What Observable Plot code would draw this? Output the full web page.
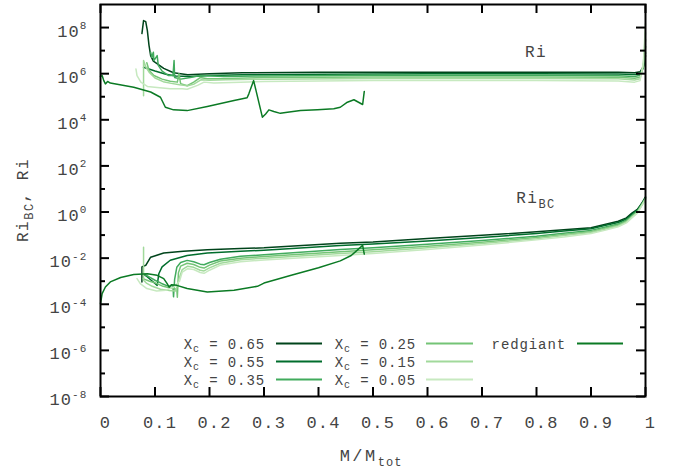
<!DOCTYPE html>
<html>
<head>
<meta charset="utf-8">
<script src="https://cdn.jsdelivr.net/npm/d3@7"></script>
<script src="https://cdn.jsdelivr.net/npm/@observablehq/plot@0.6"></script>
<style>
  body { margin: 0; background: white; }
  svg text { font-family: 'Liberation Mono', monospace; }
</style>
</head>
<body>
<script>
// ---------- data: [M/Mtot, value] ----------
const ri065 = [[0.076,5.5e7],[0.079,2.0e8],[0.083,1.8e8],[0.086,7.4e7],[0.089,1.7e7],[0.092,6.1e6],[0.097,3.5e6],[0.105,2.6e6],[0.116,1.7e6],[0.134,1.1e6],[0.16,9.0e5],[0.2,1.0e6],[0.26,1.1e6],[0.4,1.15e6],[0.6,1.15e6],[0.8,1.15e6],[0.95,1.15e6],[0.98,1.1e6],[0.99,1.2e6],[0.996,2.0e6],[1.0,6.0e6]];
const ri055 = [[0.079,1.9e6],[0.1,1.3e6],[0.12,9.5e5],[0.138,7.9e5],[0.165,7.6e5],[0.2,8.3e5],[0.26,9.0e5],[0.4,9.5e5],[0.6,1.0e6],[0.8,1.0e6],[0.95,9.8e5],[0.98,9.2e5],[0.99,1.0e6],[0.996,1.8e6],[1.0,8.0e6]];
const ri035 = [[0.092,8.5e6],[0.094,5.2e6],[0.097,8.5e6],[0.098,3.7e6],[0.104,6.1e6],[0.106,2.3e6],[0.113,1.3e6],[0.125,8.3e5],[0.133,8.3e5],[0.135,3.7e6],[0.136,6.8e5],[0.147,5.8e5],[0.165,6.8e5],[0.183,8.3e5],[0.226,7.6e5],[0.3,8.0e5],[0.5,8.5e5],[0.8,8.5e5],[0.95,8.2e5],[0.98,7.5e5],[0.99,8.5e5],[0.996,2.0e6],[1.0,1.5e7]];
const ri025 = [[0.085,3.0e6],[0.089,1.4e6],[0.098,8.3e5],[0.113,5.8e5],[0.128,4.7e5],[0.141,4.3e5],[0.144,1.0e6],[0.147,3.7e5],[0.159,3.0e5],[0.171,4.3e5],[0.183,6.8e5],[0.196,6.0e5],[0.22,6.0e5],[0.3,6.8e5],[0.5,7.2e5],[0.8,7.2e5],[0.95,7.0e5],[0.98,6.3e5],[0.99,7.0e5],[0.996,2.0e6],[1.0,3.0e7]];
const ri015 = [[0.079,1.1e5],[0.079,3.7e6],[0.083,2.0e6],[0.09,1.1e6],[0.1,6.5e5],[0.115,4.5e5],[0.13,3.8e5],[0.145,3.3e5],[0.16,3.0e5],[0.172,3.6e5],[0.185,5.5e5],[0.2,5.2e5],[0.23,5.5e5],[0.3,5.8e5],[0.5,6.2e5],[0.8,6.2e5],[0.95,6.0e5],[0.98,5.3e5],[0.99,6.0e5],[0.996,2.5e6],[1.0,6.0e7]];
const ri005 = [[0.065,1.6e6],[0.067,8.3e5],[0.074,4.3e5],[0.086,2.8e5],[0.104,2.5e5],[0.128,2.2e5],[0.15,2.2e5],[0.159,2.1e5],[0.178,3.1e5],[0.19,4.3e5],[0.208,3.9e5],[0.257,4.3e5],[0.3,4.6e5],[0.5,5.0e5],[0.8,5.0e5],[0.95,4.8e5],[0.98,4.3e5],[0.99,5.0e5],[0.996,3.0e6],[1.0,1.5e8]];

const bc065 = [[0.076,9.3e-4],[0.076,4.2e-3],[0.083,4.9e-3],[0.092,1.1e-2],[0.116,1.66e-2],[0.152,2.0e-2],[0.196,2.3e-2],[0.257,2.6e-2],[0.3,2.8e-2],[0.44,4.4e-2],[0.5,5.0e-2],[0.6,7.1e-2],[0.7,9.8e-2],[0.8,0.138],[0.85,0.17],[0.9,0.21],[0.925,0.29],[0.95,0.40],[0.965,0.56],[0.975,0.9],[0.985,1.3],[0.99,1.9],[0.995,2.8],[1.0,4.5]];
const bc055 = [[0.079,2.0e-3],[0.085,1.6e-3],[0.093,1.1e-3],[0.1,8.0e-4],[0.104,6.6e-4],[0.107,2.1e-3],[0.113,4.2e-3],[0.128,8.1e-3],[0.159,1.3e-2],[0.196,1.66e-2],[0.257,2.0e-2],[0.3,2.2e-2],[0.44,3.5e-2],[0.5,4.1e-2],[0.6,5.6e-2],[0.7,7.9e-2],[0.8,0.117],[0.85,0.15],[0.9,0.19],[0.925,0.26],[0.95,0.35],[0.965,0.5],[0.975,0.8],[0.985,1.2],[0.99,1.8],[0.995,2.6],[1.0,4.3]];
const bc035 = [[0.082,1.9e-3],[0.09,1.5e-3],[0.1,1.1e-3],[0.112,8.0e-4],[0.125,6.0e-4],[0.133,6.5e-4],[0.134,2.1e-4],[0.136,1.2e-3],[0.14,4.0e-3],[0.147,6.5e-3],[0.159,8.0e-3],[0.171,7.0e-3],[0.183,5.5e-3],[0.19,5.2e-3],[0.2,6.5e-3],[0.22,9.0e-3],[0.257,1.2e-2],[0.3,1.4e-2],[0.44,2.4e-2],[0.5,2.8e-2],[0.6,4.0e-2],[0.7,5.8e-2],[0.8,8.9e-2],[0.85,0.12],[0.9,0.16],[0.925,0.22],[0.95,0.30],[0.965,0.44],[0.975,0.7],[0.985,1.1],[0.99,1.65],[0.995,2.5],[1.0,4.0]];
const bc025 = [[0.078,1.3e-3],[0.09,1.0e-3],[0.1,8.5e-4],[0.115,6.0e-4],[0.13,5.0e-4],[0.14,4.5e-4],[0.141,2.0e-4],[0.143,2.3e-3],[0.147,4.5e-3],[0.159,6.0e-3],[0.171,5.3e-3],[0.183,4.0e-3],[0.19,3.7e-3],[0.2,5.0e-3],[0.22,7.5e-3],[0.257,1.0e-2],[0.3,1.17e-2],[0.44,1.9e-2],[0.5,2.3e-2],[0.6,3.3e-2],[0.7,4.9e-2],[0.8,7.8e-2],[0.85,0.105],[0.9,0.14],[0.925,0.2],[0.95,0.275],[0.965,0.4],[0.975,0.64],[0.985,1.0],[0.99,1.55],[0.995,2.4],[1.0,3.8]];
const bc015 = [[0.079,3.0e-2],[0.079,1.1e-3],[0.085,8.0e-4],[0.095,6.0e-4],[0.11,4.5e-4],[0.125,4.0e-4],[0.138,3.8e-4],[0.145,1.5e-3],[0.15,3.2e-3],[0.16,4.5e-3],[0.171,4.0e-3],[0.183,3.0e-3],[0.19,2.8e-3],[0.2,3.8e-3],[0.22,6.0e-3],[0.257,8.5e-3],[0.3,1.0e-2],[0.44,1.6e-2],[0.5,1.9e-2],[0.6,2.8e-2],[0.7,4.3e-2],[0.8,6.9e-2],[0.85,0.095],[0.9,0.13],[0.925,0.18],[0.95,0.25],[0.965,0.37],[0.975,0.6],[0.985,0.95],[0.99,1.48],[0.995,2.3],[1.0,3.6]];
const bc005 = [[0.067,1.3e-3],[0.073,7.9e-4],[0.085,4.8e-4],[0.103,3.8e-4],[0.12,4.1e-4],[0.135,5.6e-4],[0.145,1.0e-3],[0.15,2.5e-3],[0.16,3.5e-3],[0.171,3.2e-3],[0.183,2.4e-3],[0.19,2.2e-3],[0.2,3.0e-3],[0.22,5.0e-3],[0.257,7.0e-3],[0.3,8.3e-3],[0.44,1.3e-2],[0.5,1.6e-2],[0.6,2.4e-2],[0.7,3.7e-2],[0.8,6.2e-2],[0.85,0.083],[0.9,0.117],[0.925,0.16],[0.95,0.23],[0.965,0.34],[0.975,0.56],[0.985,0.9],[0.99,1.4],[0.995,2.2],[1.0,3.5]];

const rgRi = [[0,7.6e5],[0.003,8.3e5],[0.006,5.0e5],[0.009,3.6e5],[0.013,4.6e5],[0.018,3.9e5],[0.061,2.6e5],[0.092,1.6e5],[0.11,9.5e4],[0.119,3.5e4],[0.134,2.7e4],[0.159,2.5e4],[0.196,3.8e4],[0.245,6.9e4],[0.269,9.0e4],[0.272,1.3e5],[0.281,5.0e5],[0.297,1.3e4],[0.303,1.8e4],[0.309,2.7e4],[0.318,2.3e4],[0.33,1.9e4],[0.343,2.1e4],[0.367,2.5e4],[0.398,2.7e4],[0.428,3.0e4],[0.44,3.5e4],[0.453,5.8e4],[0.465,7.4e4],[0.481,4.6e4],[0.484,1.7e5]];
const rgBC = [[0,1.07e-4],[0.003,2.9e-4],[0.009,5.6e-4],[0.018,9.3e-4],[0.037,1.45e-3],[0.061,1.95e-3],[0.086,2.1e-3],[0.104,1.8e-3],[0.116,1.3e-3],[0.122,8.0e-4],[0.126,5.5e-4],[0.13,7.0e-4],[0.14,6.6e-4],[0.159,4.8e-4],[0.196,3.4e-4],[0.245,4.1e-4],[0.288,6.0e-4],[0.3,8.3e-4],[0.35,1.8e-3],[0.4,3.8e-3],[0.44,7.6e-3],[0.46,1.3e-2],[0.481,3.6e-2],[0.484,1.5e-2]];

const xcLabels = ["0.65", "0.55", "0.35", "0.25", "0.15", "0.05"];
const xcColors = ["#00441b", "#006d2c", "#41ab5d", "#74c476", "#a1d99b", "#c7e9c0"];
const riSeries = [ri065, ri055, ri035, ri025, ri015, ri005];
const bcSeries = [bc065, bc055, bc035, bc025, bc015, bc005];
const rgLabel = "redgiant";
const rgColor = "#0b7a24";

const xTicks = [0, 0.1, 0.2, 0.3, 0.4, 0.5, 0.6, 0.7, 0.8, 0.9, 1];
const yMajor = [1e-8, 1e-6, 1e-4, 1e-2, 1e0, 1e2, 1e4, 1e6, 1e8];
const yMinor = [1e-7, 1e-5, 1e-3, 1e-1, 1e1, 1e3, 1e5, 1e7];

// ---------- layout ----------
const W = 679, H = 470;
const mL = 100, mR = 34, mT = 4, mB = 74;
const iW = W - mL - mR, iH = H - mT - mB;
const FONT = "'Liberation Mono', monospace";
const TXT = "#444";

const lineMarks = [];
riSeries.forEach((s, i) => lineMarks.push(Plot.line(s, {x: d => d[0], y: d => d[1], stroke: xcColors[i], strokeWidth: 1.5})));
bcSeries.forEach((s, i) => lineMarks.push(Plot.line(s, {x: d => d[0], y: d => d[1], stroke: xcColors[i], strokeWidth: 1.5})));
lineMarks.push(Plot.line(rgRi, {x: d => d[0], y: d => d[1], stroke: rgColor, strokeWidth: 1.5}));
lineMarks.push(Plot.line(rgBC, {x: d => d[0], y: d => d[1], stroke: rgColor, strokeWidth: 1.5}));

const tk = {stroke: "black", strokeWidth: 2};
const svg = Plot.plot({
  width: W, height: H,
  marginLeft: mL, marginRight: mR, marginTop: mT, marginBottom: mB,
  style: {fontFamily: FONT, background: "white", color: TXT, overflow: "visible"},
  x: {domain: [0, 1]},
  y: {type: "log", domain: [1e-8, 1e9]},
  marks: [
    ...lineMarks,
    Plot.tickX(xTicks, {x: d => d, insetTop: iH - 9, ...tk}),
    Plot.tickX(xTicks, {x: d => d, insetBottom: iH - 9, ...tk}),
    Plot.tickY(yMajor, {y: d => d, insetRight: iW - 9, ...tk}),
    Plot.tickY(yMajor, {y: d => d, insetLeft: iW - 9, ...tk}),
    Plot.tickY(yMinor, {y: d => d, insetRight: iW - 5, ...tk}),
    Plot.tickY(yMinor, {y: d => d, insetLeft: iW - 5, ...tk}),
    Plot.frame({stroke: "black", strokeWidth: 2}),
    Plot.axisX({ticks: xTicks, tickSize: 0, tickPadding: 19, fontSize: 17, dx: 5, fill: TXT,
      tickFormat: d => String(+d.toFixed(1)), label: null}),
    Plot.axisY({ticks: yMajor, tickSize: 0, tickPadding: 13, fontSize: 17, dy: 3.5, fill: TXT,
      tickFormat: d => "10^" + Math.round(Math.log10(d)), label: null})
  ]
});
document.body.appendChild(svg);

const NS = "http://www.w3.org/2000/svg";
function tspan(parent, str, attrs) {
  const t = document.createElementNS(NS, "tspan");
  t.textContent = str;
  for (const k in attrs) t.setAttribute(k, attrs[k]);
  parent.appendChild(t);
  return t;
}

// letter spacing on x tick labels
svg.querySelectorAll('g[aria-label="x-axis tick label"] text').forEach(t => t.style.letterSpacing = "1.1px");
// superscripts on y tick labels
svg.querySelectorAll('g[aria-label="y-axis tick label"] text').forEach(t => {
  const s = t.textContent;
  const e = s.split("^")[1];
  t.textContent = "";
  t.style.letterSpacing = "1.1px";
  tspan(t, "10", {});
  tspan(t, e, {"font-size": 11, dy: -7.5});
});

const g = d3.select(svg).append("g").attr("font-family", FONT).attr("fill", TXT);

// annotations
g.append("text").attr("x", 536).attr("y", 57).attr("font-size", 16).style("letter-spacing", "1.5px").text("Ri");
const a2 = g.append("text").attr("x", 536).attr("y", 203).attr("font-size", 16).style("letter-spacing", "1.5px");
a2.append("tspan").text("Ri");
a2.append("tspan").attr("font-size", 12).attr("dy", 5).text("BC");

// axis labels
const yl = g.append("text").attr("transform", "translate(28,200) rotate(-90)").attr("text-anchor", "middle")
  .attr("font-size", 16).style("letter-spacing", "1.5px");
yl.append("tspan").text("Ri");
yl.append("tspan").attr("font-size", 12).attr("dy", 5).text("BC");
yl.append("tspan").attr("dy", -5).text(", Ri");

const xl = g.append("text").attr("x", 371).attr("y", 461).attr("text-anchor", "middle")
  .attr("font-size", 17).style("letter-spacing", "2.5px");
xl.append("tspan").text("M/M");
xl.append("tspan").attr("font-size", 12).attr("dy", 5).style("letter-spacing", "1px").text("tot");

// legend
const colText = [265, 416];
const colLine = [[276, 322], [426, 473]];
const rowBase = [349, 367, 385];
xcLabels.forEach((lab, i) => {
  const c = Math.floor(i / 3), r = i % 3;
  const t = g.append("text").attr("x", colText[c]).attr("y", rowBase[r]).attr("text-anchor", "end")
    .attr("font-size", 14).style("letter-spacing", "0.9px");
  t.append("tspan").text("X");
  t.append("tspan").attr("font-size", 10).attr("dy", 3).text("c");
  t.append("tspan").attr("dy", -3).text(" = " + lab);
  g.append("line").attr("x1", colLine[c][0]).attr("x2", colLine[c][1])
    .attr("y1", rowBase[r] - 5.5).attr("y2", rowBase[r] - 5.5)
    .attr("stroke", xcColors[i]).attr("stroke-width", 2);
});
g.append("text").attr("x", 566).attr("y", rowBase[0]).attr("text-anchor", "end")
  .attr("font-size", 14).style("letter-spacing", "0.9px").text(rgLabel);
g.append("line").attr("x1", 577).attr("x2", 623).attr("y1", rowBase[0] - 5.5).attr("y2", rowBase[0] - 5.5)
  .attr("stroke", rgColor).attr("stroke-width", 2);
</script>
</body>
</html>
